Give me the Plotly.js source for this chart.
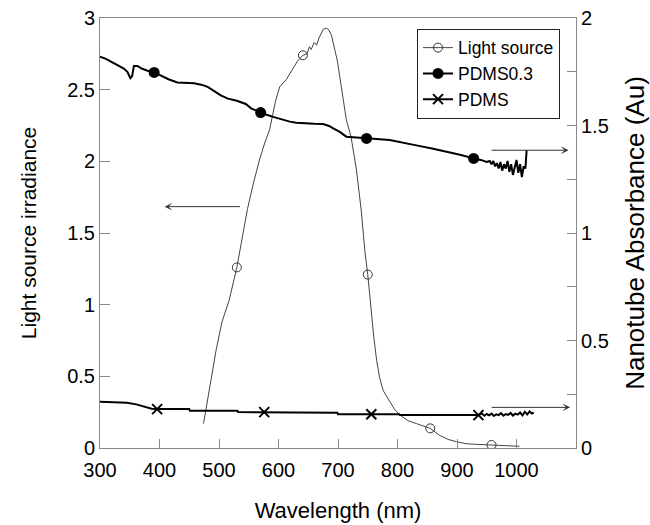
<!DOCTYPE html>
<html>
<head>
<meta charset="utf-8">
<script src="https://cdn.plot.ly/plotly-3.0.1.min.js"></script>
<style>html,body{margin:0;padding:0;background:#fff}#chart{width:650px;height:525px}</style>
</head>
<body>
<div id="chart"></div>
<script>
// ---- Light source irradiance (left axis) ----
var lightWl = [474,485,495,505,517,530,540,548,558,568,577,585,595,602,613,624,632,641,648,652,655,660,664,668,672,675,680,684,689,694,699,703,708,714,722,731,739,745,750,755,760,765,770,776,787,795,804,818,832,845,855,870,885,899,915,935,958,980,1005];
var lightVal = [0.17,0.45,0.68,0.88,1.03,1.26,1.48,1.67,1.85,2.01,2.13,2.22,2.42,2.52,2.57,2.65,2.70,2.74,2.75,2.80,2.78,2.83,2.81,2.86,2.90,2.92,2.93,2.92,2.88,2.80,2.70,2.59,2.45,2.29,2.17,1.94,1.66,1.38,1.21,0.99,0.78,0.61,0.49,0.40,0.33,0.27,0.23,0.19,0.17,0.15,0.137,0.09,0.06,0.044,0.03,0.025,0.021,0.015,0.012];
var lightMarkWl = [530,641,750,855,958];
var lightMarkVal = [1.26,2.74,1.21,0.137,0.021];

// ---- PDMS0.3 absorbance (right axis) ----
var pdms03Wl = [300,310,320,330,340,346,351,354,357,363,370,380,391,400,415,430,445,458,470,481,492,503,515,530,545,554,562,570,580,591,605,619,630,641,660,675,685,692,703,714,725,737,748,765,787,805,821,840,860,883,905,928,940,950,955,958,961,964,967,970,973,976,979,982,985,988,991,994,997,1000,1003,1006,1009,1012,1015,1017];
var pdms03Val = [1.82,1.81,1.795,1.78,1.765,1.75,1.72,1.73,1.777,1.777,1.765,1.755,1.747,1.735,1.715,1.70,1.697,1.696,1.69,1.68,1.66,1.64,1.625,1.615,1.60,1.58,1.57,1.56,1.55,1.54,1.528,1.518,1.513,1.51,1.508,1.507,1.498,1.487,1.47,1.448,1.445,1.442,1.44,1.437,1.433,1.424,1.414,1.403,1.392,1.378,1.364,1.347,1.34,1.33,1.335,1.32,1.335,1.31,1.325,1.30,1.33,1.29,1.32,1.30,1.335,1.285,1.32,1.27,1.31,1.34,1.28,1.32,1.26,1.31,1.30,1.385];
var pdms03MarkWl = [391,570,748,928];
var pdms03MarkVal = [1.747,1.56,1.44,1.347];

// ---- PDMS absorbance (right axis) ----
var pdmsWl = [300,315,333,345,361,370,378,387,396,420,450,451,490,531,532,575,600,635,636,670,699,700,730,757,780,803,804,850,900,936,942,946,950,954,958,962,966,970,974,978,982,986,990,994,998,1002,1006,1010,1014,1018,1022,1026,1029];
var pdmsVal = [0.215,0.214,0.214,0.21,0.203,0.195,0.189,0.183,0.181,0.181,0.181,0.173,0.173,0.173,0.167,0.167,0.167,0.167,0.164,0.164,0.164,0.157,0.157,0.157,0.157,0.157,0.153,0.153,0.153,0.153,0.16,0.15,0.158,0.152,0.16,0.149,0.157,0.153,0.162,0.15,0.158,0.154,0.163,0.151,0.16,0.155,0.165,0.152,0.168,0.156,0.17,0.16,0.165];
var pdmsMarkWl = [396,576,756,936];
var pdmsMarkVal = [0.181,0.167,0.157,0.153];

// ---- axis ticks ----
var xTickVals = [300,400,500,600,700,800,900,1000];
var yLeftTicks = [0,0.5,1,1.5,2,2.5,3];
var yRightTicks = [0,0.5,1,1.5,2];

// ---- arrows: head x, tail x, y, axis ----
var arrowHeadX = [408.6, 1087.5, 1090];
var arrowTailX = [537.7, 955.7, 955.7];
var arrowY = [1.684, 1.385, 0.189];
var arrowAxis = ['y', 'y2', 'y2'];

function withGaps(arr) {
  var out = [];
  arr.forEach(function (v, i) { if (i > 0) out.push(null); out.push(v); });
  return out;
}

var FONT = 'Liberation Sans, Arial, sans-serif';

var traces = [
  {x: lightWl, y: lightVal, mode: 'lines', line: {color: '#444', width: 1}, showlegend: false, legendgroup: 'ls', hoverinfo: 'skip'},
  {x: pdms03Wl, y: pdms03Val, yaxis: 'y2', mode: 'lines', line: {color: '#000', width: 2}, showlegend: false, legendgroup: 'p3', hoverinfo: 'skip'},
  {x: pdmsWl, y: pdmsVal, yaxis: 'y2', mode: 'lines', line: {color: '#000', width: 2}, showlegend: false, legendgroup: 'p0', hoverinfo: 'skip'},
  {x: withGaps(lightMarkWl), y: withGaps(lightMarkVal), name: 'Light source', mode: 'lines+markers', legendgroup: 'ls',
   line: {color: '#444', width: 1}, marker: {symbol: 'circle-open', size: 9, color: '#333', line: {width: 1}}},
  {x: withGaps(pdms03MarkWl), y: withGaps(pdms03MarkVal), yaxis: 'y2', name: 'PDMS0.3', mode: 'lines+markers', legendgroup: 'p3',
   line: {color: '#000', width: 2}, marker: {symbol: 'circle', size: 11, color: '#000'}},
  {x: withGaps(pdmsMarkWl), y: withGaps(pdmsMarkVal), yaxis: 'y2', name: 'PDMS', mode: 'lines+markers', legendgroup: 'p0',
   line: {color: '#000', width: 2}, marker: {symbol: 'x-thin-open', size: 10, color: '#000', line: {width: 2, color: '#000'}}}
];

var annotations = arrowHeadX.map(function (hx, i) {
  return {x: hx, y: arrowY[i], ax: arrowTailX[i], ay: arrowY[i], xref: 'x', yref: arrowAxis[i], axref: 'x', ayref: arrowAxis[i],
    text: '', showarrow: true, arrowhead: 3, arrowsize: 1.3, arrowwidth: 1, arrowcolor: '#333'};
});

var layout = {
  width: 650, height: 525,
  margin: {l: 100, r: 74, t: 18, b: 77},
  paper_bgcolor: '#fff', plot_bgcolor: '#fff',
  font: {family: FONT, color: '#000', size: 20},
  showlegend: true,
  legend: {x: 0.666, y: 0.975, xanchor: 'left', yanchor: 'top', bgcolor: '#fff', bordercolor: '#222', borderwidth: 1,
    font: {family: FONT, size: 17.5, color: '#000'}, tracegroupgap: 0},
  xaxis: {range: [300, 1100], tickvals: xTickVals, ticks: 'inside', ticklen: 9, tickcolor: '#888', tickwidth: 1,
    ticklabelstandoff: 4,
    showline: true, linecolor: '#888', linewidth: 1, mirror: true, showgrid: false, zeroline: false,
    tickfont: {size: 20}, title: {text: 'Wavelength (nm)', font: {size: 22}, standoff: 22}},
  yaxis: {range: [0, 3], tickvals: yLeftTicks, ticks: 'inside', ticklen: 10, tickcolor: '#888', tickwidth: 1,
    showline: true, linecolor: '#888', linewidth: 1, showgrid: false, zeroline: false,
    tickfont: {size: 20}, title: {text: 'Light source irradiance', font: {size: 21}, standoff: 24}},
  yaxis2: {range: [0, 2], overlaying: 'y', side: 'right', tickvals: yRightTicks, ticks: 'inside', ticklen: 9, tickcolor: '#888', tickwidth: 1,
    minor: {dtick: 0.25, ticks: 'inside', ticklen: 9, tickcolor: '#888'},
    showline: true, linecolor: '#888', linewidth: 1, showgrid: false, zeroline: false,
    tickfont: {size: 20}, title: {text: 'Nanotube Absorbance (Au)', font: {size: 26}, standoff: 18}},
  annotations: annotations
};

Plotly.newPlot('chart', traces, layout, {staticPlot: true, displayModeBar: false});
</script>
</body>
</html>
